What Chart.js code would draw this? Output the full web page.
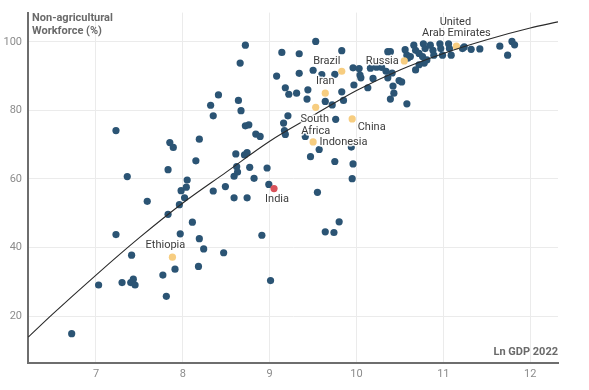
<!DOCTYPE html>
<html>
<head>
<meta charset="utf-8">
<script src="https://cdn.jsdelivr.net/npm/chart.js@4/dist/chart.umd.min.js"></script>
<style>
  html, body { margin: 0; padding: 0; background: #fff; }
  #wrap { width: 589px; height: 390px; position: relative; }
</style>
</head>
<body>
<div id="wrap"><canvas id="scatter"></canvas></div>
<script>
// Ln GDP 2022 (x) and non-agricultural workforce % (y), all other countries
const otherX = [6.72, 7.03, 7.23, 7.30, 7.40, 7.43, 7.45, 7.41, 7.23, 7.36, 7.59, 7.77, 7.81, 7.91, 7.83, 7.96, 7.97, 8.02, 7.98, 8.04,
  8.05, 7.83, 7.85, 7.89, 8.11, 8.19, 8.18, 8.24, 8.47, 8.15, 8.19, 8.32, 8.35, 8.41, 8.35, 8.49, 8.59, 8.74, 8.72, 8.66,
  8.64, 8.67, 8.72, 8.76, 8.84, 8.89, 8.61, 8.71, 8.74, 8.62, 8.63, 8.59, 8.77, 8.82, 8.97, 8.99, 8.91, 9.01, 9.14, 9.34,
  9.08, 9.34, 9.18, 9.22, 9.31, 9.44, 9.43, 9.21, 9.16, 9.17, 9.18, 9.53, 9.83, 9.50, 9.60, 9.75, 9.96, 10.03, 10.04, 10.05,
  10.16, 10.23, 10.29, 10.34, 10.36, 10.39, 10.19, 10.36, 10.49, 10.42, 10.43, 10.39, 10.58, 10.13, 9.97, 9.64, 9.72, 9.83, 9.85, 9.76,
  9.41, 9.57, 9.47, 9.75, 9.96, 9.95, 9.94, 9.55, 9.80, 9.64, 9.74, 10.58, 10.56, 10.52, 10.66, 10.68, 10.62, 10.59, 10.68, 10.72,
  10.76, 10.77, 10.79, 10.81, 10.78, 10.85, 10.88, 10.89, 10.96, 10.97, 10.99, 11.06, 11.07, 11.09, 11.22, 11.24, 11.32, 11.42, 11.65, 11.74,
  11.79, 11.82, 10.41, 10.72];
const otherY = [14.9, 29.1, 43.8, 29.8, 29.8, 30.8, 29.1, 37.8, 74.1, 60.7, 53.5, 32.0, 25.8, 33.7, 49.7, 52.5, 44.0, 54.5, 56.6, 57.6,
  59.7, 62.7, 70.6, 69.2, 47.4, 42.6, 34.5, 39.6, 38.5, 65.3, 71.6, 81.5, 78.4, 84.5, 56.5, 57.8, 54.5, 54.5, 99.0, 93.8,
  82.9, 79.9, 75.5, 75.8, 73.1, 72.4, 67.3, 67.0, 67.7, 63.6, 62.0, 60.8, 63.4, 60.2, 63.2, 58.4, 43.6, 30.4, 96.9, 96.5,
  90.0, 90.8, 86.6, 84.7, 85.0, 86.0, 83.3, 78.4, 76.3, 74.1, 73.0, 100.1, 97.4, 91.7, 90.4, 90.5, 92.4, 92.2, 90.3, 89.5,
  92.3, 92.6, 92.5, 91.4, 97.1, 97.1, 89.3, 89.5, 88.7, 87.1, 85.0, 83.3, 81.9, 86.6, 87.4, 82.6, 81.6, 85.4, 82.9, 77.4,
  72.4, 68.6, 66.5, 65.1, 64.4, 60.1, 69.3, 56.1, 47.5, 44.6, 44.4, 96.1, 97.7, 88.3, 99.0, 97.5, 95.7, 95.2, 91.8, 96.6,
  95.7, 99.4, 98.0, 94.7, 93.8, 99.0, 97.5, 96.1, 99.4, 98.0, 96.1, 99.4, 98.0, 96.1, 98.0, 98.5, 97.8, 97.9, 98.7, 96.1,
  100.1, 99.1, 90.9, 93.3];

// named countries
const namedCountries = ["India", "Ethiopia", "Brazil", "Iran", "Russia", "United Arab Emirates", "South Africa", "Indonesia", "China"];
const namedX = [9.05, 7.88, 9.83, 9.64, 10.55, 11.15, 9.53, 9.50, 9.95];
const namedY = [57.2, 37.2, 91.4, 85.0, 94.4, 98.7, 80.9, 70.8, 77.5];

// fitted curve
const trendX = [6.22, 6.5, 7.0, 7.5, 8.0, 8.5, 9.0, 9.5, 10.0, 10.5, 11.0, 11.5, 12.0, 12.32];
const trendY = [13.9, 20.6, 32.0, 42.9, 53.0, 62.0, 71.0, 78.5, 85.8, 91.8, 96.6, 100.6, 104.0, 105.8];

const xTicks = [7, 8, 9, 10, 11, 12];
const yTicks = [20, 40, 60, 80, 100];

const BLUE = "#2b5474";
const GOLD = "#f7cd80";
const RED = "#d9535b";

// where each country's name sits relative to its dot (px), one entry per text line
const labelPlacement = {
  "India": [["India", 3, 11, "center"]],
  "Ethiopia": [["Ethiopia", -7, -12, "center"]],
  "Brazil": [["Brazil", -15, -10, "center"]],
  "Iran": [["Iran", 0, -12, "center"]],
  "Russia": [["Russia", -22, 0, "center"]],
  "United Arab Emirates": [["United", -1, -24, "center"], ["Arab Emirates", 0, -12.5, "center"]],
  "South Africa": [["South", -1, 12, "center"], ["Africa", 0, 24, "center"]],
  "Indonesia": [["Indonesia", 6.5, 0, "left"]],
  "China": [["China", 5.5, 8.5, "left"]],
};

const pts = (xs, ys) => xs.map((x, i) => ({ x: x, y: ys[i] }));

const textPlugin = {
  id: "textLayer",
  afterDatasetsDraw(chart) {
    const { ctx, chartArea, scales } = chart;
    ctx.save();
    ctx.textBaseline = "middle";
    ctx.font = "11px Roboto";
    namedCountries.forEach((name, i) => {
      const px = scales.x.getPixelForValue(namedX[i]);
      const py = scales.y.getPixelForValue(namedY[i]);
      (labelPlacement[name] || []).forEach(([txt, dx, dy, align]) => {
        ctx.textAlign = align;
        ctx.lineJoin = "round";
        ctx.lineWidth = 3;
        ctx.strokeStyle = "rgba(255,255,255,0.9)";
        ctx.strokeText(txt, px + dx, py + dy);
        ctx.fillStyle = "#3c3c3c";
        ctx.fillText(txt, px + dx, py + dy);
      });
    });

    // axis titles sit inside the plot
    ctx.font = "bold 11px Roboto";
    ctx.fillStyle = "#6a6a6a";
    ctx.textAlign = "left";
    ctx.fillText("Non-agricultural", chartArea.left + 4, chartArea.top + 6);
    ctx.fillText("Workforce (%)", chartArea.left + 4, chartArea.top + 19);
    ctx.textAlign = "right";
    ctx.fillText("Ln GDP 2022", chartArea.right, chartArea.bottom - 11);
    ctx.restore();
  },
};

new Chart(document.getElementById("scatter"), {
  type: "scatter",
  data: {
    datasets: [
      {
        type: "line",
        label: "Trend",
        data: pts(trendX, trendY),
        borderColor: "#2a2a2a",
        borderWidth: 1.1,
        pointRadius: 0,
        fill: false,
        cubicInterpolationMode: "monotone",
        order: 0,
      },
      {
        label: "Named",
        data: pts(namedX, namedY),
        backgroundColor: namedCountries.map((n) => (n === "India" ? RED : GOLD)),
        pointRadius: 3.6,
        pointBorderWidth: 0,
        order: 1,
      },
      {
        label: "Countries",
        data: pts(otherX, otherY),
        backgroundColor: BLUE,
        pointRadius: 3.6,
        pointBorderWidth: 0,
        order: 2,
      },
    ],
  },
  options: {
    responsive: true,
    maintainAspectRatio: false,
    animation: false,
    layout: { padding: { top: 3, right: 31, left: 0, bottom: 0 } },
    plugins: {
      legend: { display: false },
      tooltip: { enabled: false },
    },
    scales: {
      x: {
        type: "linear",
        min: 6.217,
        max: 12.32,
        afterBuildTicks: (s) => { s.ticks = xTicks.map((v) => ({ value: v })); },
        afterFit: (s) => { s.height = 27; },
        grid: { color: "#ebebeb", lineWidth: 1, drawTicks: false },
        border: { color: "#6e6e6e", width: 2 },
        ticks: { color: "#8c8c8c", font: { family: "Roboto", size: 11 }, padding: 5, maxRotation: 0 },
      },
      y: {
        type: "linear",
        min: 6.36,
        max: 108.5,
        afterBuildTicks: (s) => { s.ticks = yTicks.map((v) => ({ value: v })); },
        afterFit: (s) => { s.width = 28; },
        grid: { color: "#ebebeb", lineWidth: 1, drawTicks: false },
        border: { color: "#6e6e6e", width: 2 },
        ticks: { color: "#8c8c8c", font: { family: "Roboto", size: 11 }, padding: 6 },
      },
    },
  },
  plugins: [textPlugin],
});
</script>
</body>
</html>
